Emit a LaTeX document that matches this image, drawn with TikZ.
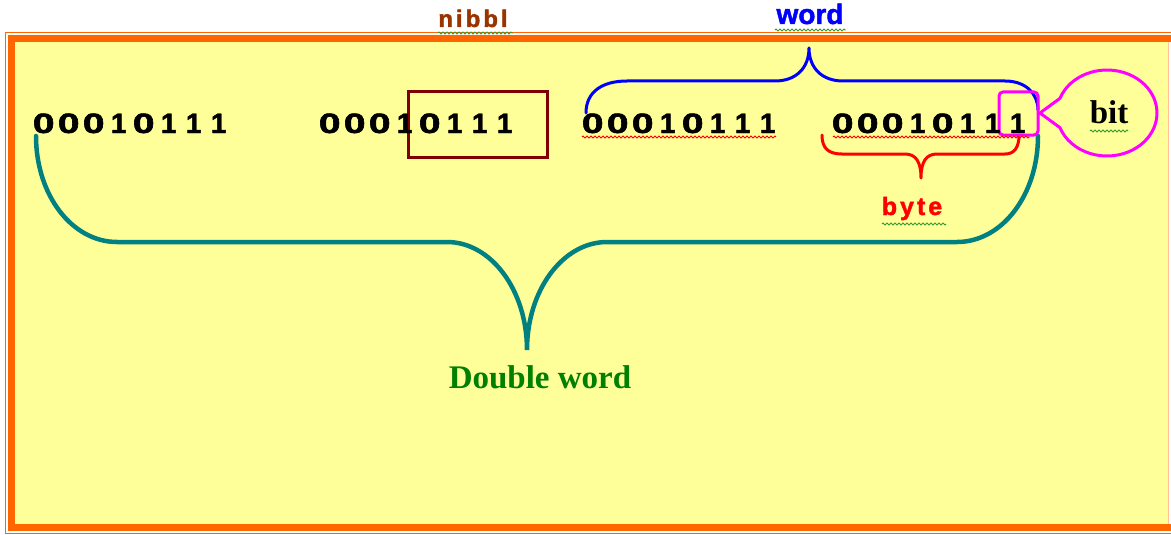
\documentclass[tikz,border=0pt]{standalone}
\usepackage{fontspec}
\usepackage{graphicx}
\usetikzlibrary{decorations.pathmorphing}
\newfontfamily\sansf{Liberation Sans}[BoldFeatures={FakeBold=1.6}]
\newfontfamily\seriff{Liberation Serif}
\definecolor{bgyellow}{HTML}{FFFF99}
\definecolor{frameor}{HTML}{FF6600}
\definecolor{nibcol}{HTML}{993300}
\definecolor{nibbox}{HTML}{800000}
\definecolor{braceteal}{HTML}{008080}
\definecolor{dwgreen}{HTML}{008000}
\definecolor{squig}{HTML}{339933}
\definecolor{magentabit}{HTML}{FF00FF}
\newcommand\bitcell[1]{\makebox[25pt]{#1}}
\newcommand\bitzero{\bitcell{\scalebox{1.4}[1]{0}}}
\newcommand\bitone{\bitcell{1}}
\newcommand\bitrow{\bitzero\bitzero\bitzero\bitone\bitzero\bitone\bitone\bitone}
\tikzset{
  bits/.style={font=\sansf\bfseries\fontsize{28}{30}\selectfont, inner sep=0pt, anchor=base west},
  squiggle/.style={decorate, decoration={zigzag, segment length=4pt, amplitude=1.1pt}, line width=0.8pt},
  bracecurve/.style={line width=3pt, line cap=round, line join=round},
}
\begin{document}
\begin{tikzpicture}[x=1pt,y=-1pt]
\useasboundingbox (0,0) rectangle (1171,535);
\clip (0,0) rectangle (1171,535);
% frame
\draw[frameor, line width=1pt] (5.5,32.5) rectangle (1190,533.5);
\draw[frameor, line width=7pt] (11,38.5) rectangle (1190,527.5);
\fill[bgyellow] (14.5,42) rectangle (1168.5,524);
\draw[frameor!40, line width=0.8pt] (1168.5,42) -- (1168.5,524);
% double word brace
\draw[braceteal, line width=4.5pt, line cap=round] (36,136) .. controls (36,195) and (72,242) .. (117,242) -- (447,242) .. controls (491,242) and (527,290) .. (527,350) .. controls (527,290) and (563,242) .. (607,242) -- (957,242) .. controls (1002,242) and (1038,195) .. (1038,136);
% word brace
\draw[blue, bracecurve] (586,113) .. controls (586,92) and (602,81) .. (627,81) -- (775,81) .. controls (796,81) and (809,68) .. (809,48) .. controls (809,68) and (822,81) .. (843,81) -- (1005,81) .. controls (1026,81) and (1038,94) .. (1038,110);
% byte brace
\draw[red, bracecurve] (822,135) .. controls (822,148) and (828,154) .. (842,154) -- (905,154) .. controls (916,154) and (921,162) .. (921,178) .. controls (921,162) and (926,154) .. (937,154) -- (1005,154) .. controls (1014,154) and (1019,148) .. (1019,135);
% nibble box
\draw[nibbox, line width=3pt] (408,92) rectangle (547,157);
% bit box
\draw[magentabit, line width=3pt, rounded corners=4pt] (999,92) rectangle (1038,135);
% callout
\draw[magentabit, line width=3pt, line join=round] (1040,113) -- (1060,98.3) arc[start angle=200, end angle=520, x radius=50, y radius=43] -- cycle;
% bit rows
\node[bits] (g1) at (31,133) {\bitrow};
\node[bits] (g2) at (317,133) {\bitrow};
\node[bits] (g3) at (580,133) {\bitrow};
\node[bits] (g4) at (830,133) {\bitrow};
% labels
\node[font=\sansf\bfseries\fontsize{24}{26}\selectfont, text=nibcol, anchor=base, inner sep=0pt] (nib) at (473,27) {n\kern3pt i\kern3pt b\kern3pt b\kern3pt l};
\node[font=\sansf\bfseries\fontsize{28}{30}\selectfont, text=blue, anchor=base, inner sep=0pt] (wordlbl) at (810,24) {word};
\node[font=\sansf\bfseries\fontsize{25}{27}\selectfont, text=red, anchor=base, inner sep=0pt] (bytelbl) at (912,215) {b\kern3pt y\kern3pt t\kern3pt e};
\node[font=\seriff\bfseries\fontsize{33}{35}\selectfont, anchor=base, inner sep=0pt] (bitlbl) at (1109,123) {bit};
\node[font=\seriff\bfseries\fontsize{33}{35}\selectfont, text=dwgreen, anchor=base, inner sep=0pt] (dwlbl) at (540,388) {Double word};
% squiggles
\draw[squiggle, squig] (438,33) -- (513,33);
\draw[squiggle, squig] (775,30) -- (846,30);
\draw[squiggle, squig] (882,224) -- (946,224);
\draw[squiggle, squig] (1090,131) -- (1128,131);
\draw[squiggle, red] (582,137) -- (776,137);
\draw[squiggle, red] (833,137) -- (1030,137);
\end{tikzpicture}
\end{document}
